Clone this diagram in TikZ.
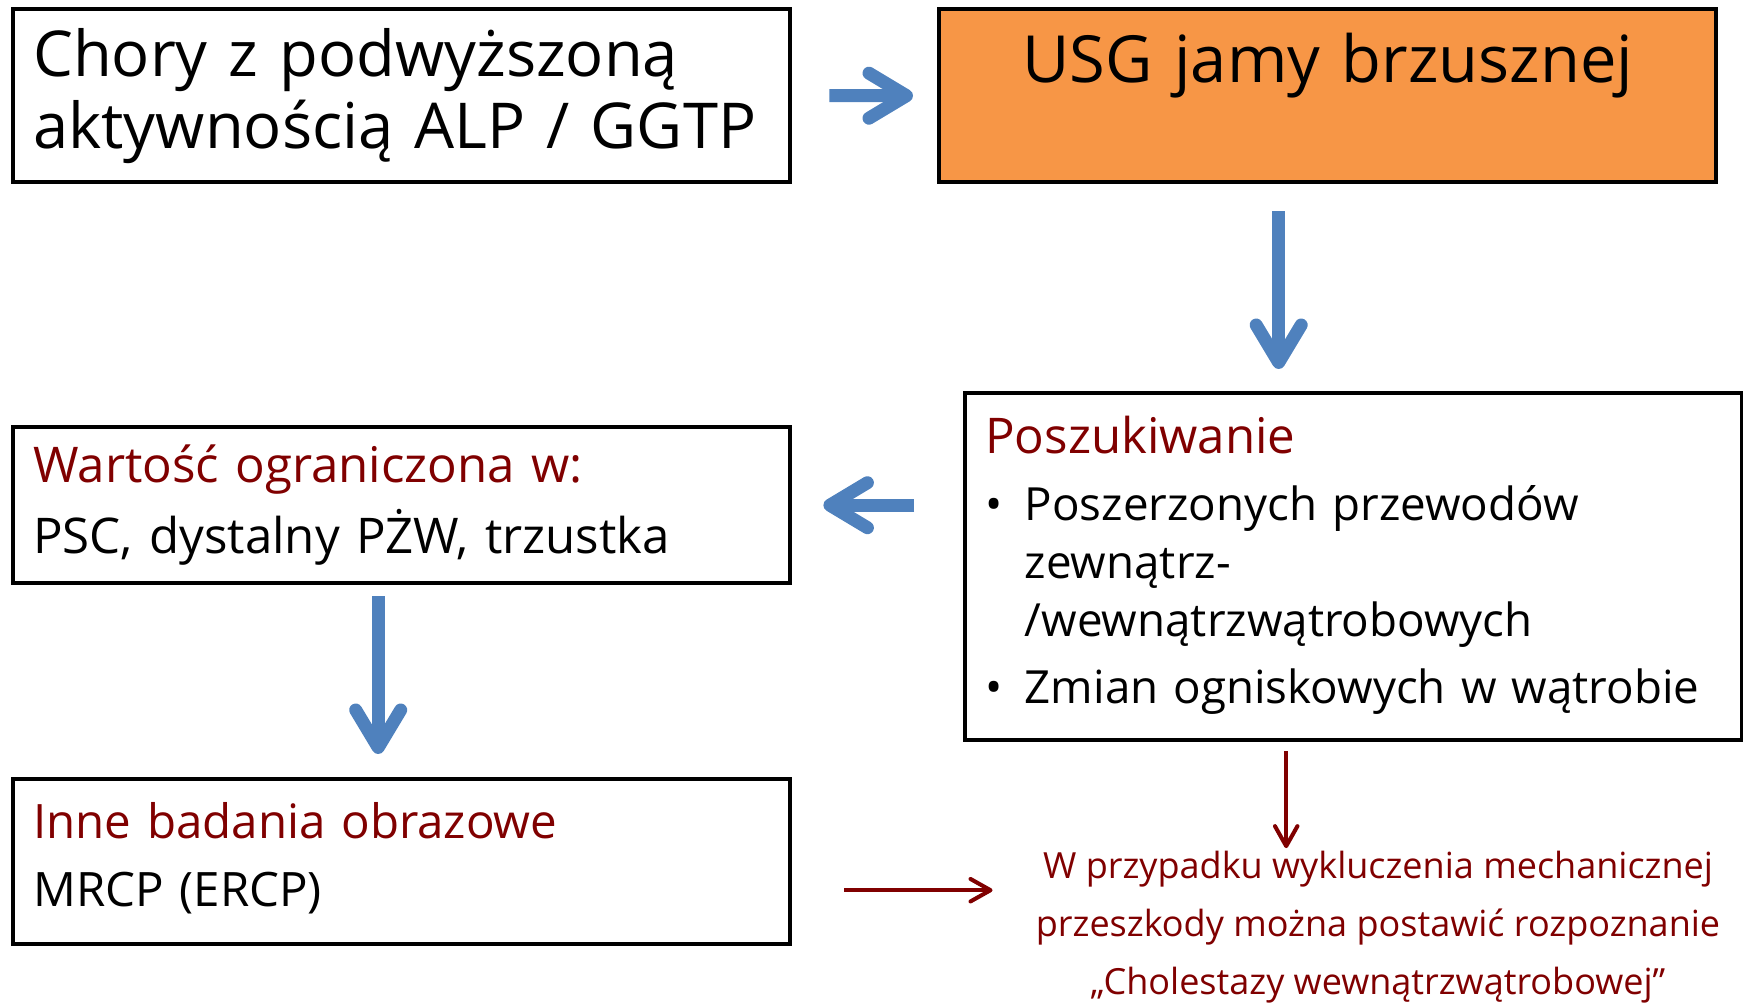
\documentclass[tikz,border=0pt]{standalone}
\usepackage{fontspec}
\setmainfont{Open Sans}
\usetikzlibrary{arrows.meta,positioning,calc}
\definecolor{arrowColor}{HTML}{4F81BD}
\definecolor{usgColor}{HTML}{F79646}
\definecolor{noteColor}{HTML}{800000}
\newcommand{\fsz}[2]{\fontsize{#1}{#2}\selectfont}

\begin{document}
\begin{tikzpicture}[box/.style={draw, line width=2.5pt, anchor=north west, inner xsep=0.4cm,
		text width=14.74cm, align=left},
	blueArrow/.style={draw=arrowColor, line width=0.26cm,
		-{Straight Barb[round, length=0.75cm, width=0.9cm]}},
	redArrow/.style={draw=noteColor, line width=2.3pt,
		-{Straight Barb[round, length=0.4cm, width=0.45cm]}}]
	\useasboundingbox (0,0) rectangle (34.86,-20.12);
	\node[box, minimum height=3.46cm, font=\fsz{36}{41}] (chory) at (0.22, -0.14) {Chory z podwyższoną\\aktywnością ALP / GGTP};
	\node[box, fill=usgColor, align=center, text height=1.05cm, text depth=1.59cm, inner ysep=0.41cm,
		font=\fsz{37}{44}] (usg) at (18.74, -0.14) {USG jamy brzusznej};
	\node[box, minimum height=6.94cm, font=\fsz{26}{33}] (poszuk) at (19.26, -7.82) {
		\begin{tabular}{@{}l@{\hspace{0.45cm}}l@{}}
			\multicolumn{2}{@{}l}{\textcolor{noteColor}{\fontsize{28}{33}\selectfont Poszukiwanie}}\\[5pt]
			\textbullet & Poszerzonych przewodów\\
			& zewnątrz-\\
			& /wewnątrzwątrobowych\\[5pt]
			\textbullet & Zmian ogniskowych w wątrobie
	\end{tabular}};
	\node[box, minimum height=3.12cm, font=\fsz{28}{40}] (wartosc) at (0.22, -8.5) {\textcolor{noteColor}{Wartość ograniczona w:}\\PSC, dystalny PŻW, trzustka};
	\node[box, minimum height=3.3cm, font=\fsz{27}{39}] (inne) at (0.22, -15.54) {\textcolor{noteColor}{Inne badania obrazowe}\\MRCP (ERCP)\vspace{4pt}};
	\node[font=\fsz{20.5}{33}, text=noteColor, align=center, inner sep=0] (wniosek) at (27.56, -18.55) {W przypadku wykluczenia mechanicznej\\przeszkody można postawić rozpoznanie\\„Cholestazy wewnątrzwątrobowej”};
	% strzalki
	\draw[blueArrow, shorten <=0.74cm, shorten >=0.48cm] (chory) -- (usg);
	\draw[blueArrow, shorten <=0.54cm, shorten >=0.44cm] ([xshift=-0.98cm]usg.south) -- ([xshift=-0.98cm]usg.south |- poszuk.north);
	\draw[blueArrow, shorten <=0.98cm, shorten >=0.62cm] (poszuk.west |- wartosc) -- (wartosc.east);
	\draw[blueArrow, shorten <=0.22cm, shorten >=0.46cm] ([xshift=-0.47cm]wartosc.south) -- ([xshift=-0.47cm]wartosc.south |- inne.north);
	\draw[redArrow, shorten <=0.18cm, shorten >=0.06cm] ([xshift=-1.35cm]poszuk.south) -- ([xshift=-1.35cm]poszuk.south |- wniosek.north);
	\draw[redArrow, shorten <=1.04cm, shorten >=0.86cm] ([yshift=-0.57cm]inne.east) -- ([yshift=-0.57cm]inne.east -| wniosek.west);
\end{tikzpicture}
\end{document}
